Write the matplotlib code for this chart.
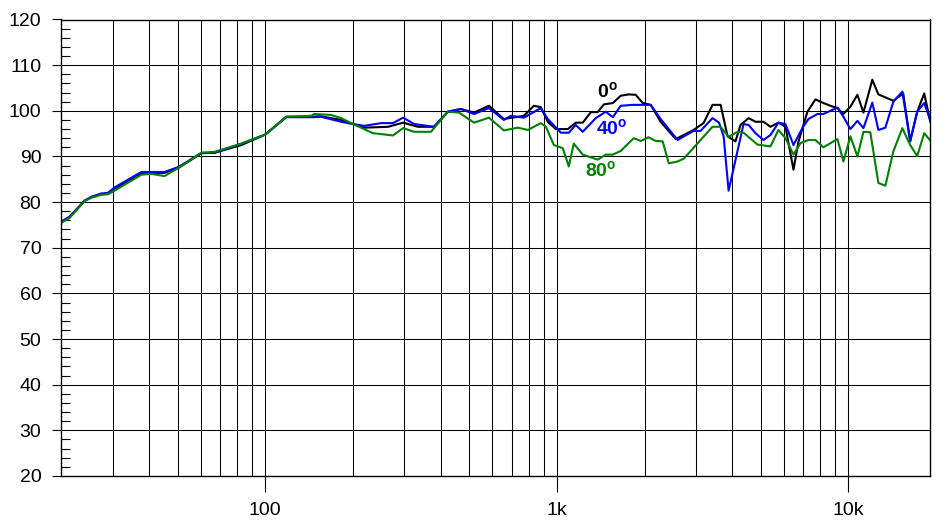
import numpy as np
import matplotlib
matplotlib.use("Agg")
import matplotlib.pyplot as plt

plt.rcParams['font.family'] = ['Liberation Sans', 'DejaVu Sans']
plt.rcParams['mathtext.fontset'] = 'custom'
plt.rcParams['mathtext.bf'] = 'Liberation Sans:bold'
plt.rcParams['mathtext.rm'] = 'Liberation Sans'

# frequency response, 0 deg (black)
f_0 = [20, 21.3, 24, 25.4, 27.4, 28.8, 30.4, 37.6, 45.1, 50.4, 60.4, 66.9, 82.8, 100,
       118, 144, 155, 182, 200, 218, 264, 297, 334, 379, 423, 469, 520, 585, 658,
       771, 834, 881, 931, 992, 1091, 1161, 1227, 1308, 1381, 1449, 1556, 1656,
       1765, 1865, 1970, 2099, 2270, 2556, 2723, 2944, 3185, 3420, 3645, 3852,
       4100, 4266, 4546, 4802, 5114, 5404, 5755, 6083, 6481, 6745, 7236, 7709,
       8208, 8675, 9169, 9612, 10160, 10740, 11260, 12080, 12670, 14260, 15420,
       16290, 17220, 18200, 19090]
db_0 = [75.6, 76.7, 80.3, 81.1, 81.7, 81.9, 82.9, 86.3, 86.4, 87.5, 90.7, 90.8, 92.5, 94.8,
        98.7, 98.7, 98.8, 98.0, 97.1, 96.3, 96.5, 97.4, 96.5, 96.5, 99.8, 100.4, 99.6, 101.1, 98.2,
        98.9, 101.1, 100.8, 97.6, 96.0, 96.0, 97.4, 97.4, 99.7, 99.7, 101.4, 101.7, 103.3,
        103.6, 103.5, 101.7, 101.3, 97.6, 93.8, 94.7, 95.8, 97.3, 101.3, 101.3, 94.4,
        93.3, 96.9, 98.4, 97.6, 97.6, 96.5, 97.4, 96.5, 87.1, 93.3, 99.8, 102.5,
        101.7, 101.1, 100.6, 99.3, 100.9, 103.5, 99.6, 106.8, 103.6, 102.2, 103.8,
        93.3, 99.8, 103.8, 97.6]

# 40 deg (blue)
f_40 = [20, 21.3, 24, 25.4, 27.4, 28.8, 30.4, 37.6, 45.1, 50.4, 60.4, 66.9, 82.8, 100,
        118, 144, 155, 182, 200, 218, 250, 274, 297, 324, 379, 423, 469, 520, 585,
        658, 695, 771, 881, 931, 1032, 1099, 1161, 1227, 1360, 1472, 1556, 1656, 1820,
        2099, 2270, 2596, 2944, 3112, 3420, 3600, 3733, 3882, 4369, 4546, 4802,
        5114, 5404, 5755, 6083, 6481, 6952, 7293, 7834, 8208, 9169, 9612, 10160,
        10740, 11260, 12080, 12670, 13390, 14260, 15310, 16290, 17220, 18200, 19090]
db_40 = [75.8, 76.8, 80.3, 81.2, 81.9, 82.0, 83.2, 86.6, 86.6, 87.7, 90.8, 90.8, 92.8, 94.8,
         98.6, 98.6, 98.7, 97.6, 97.1, 96.7, 97.3, 97.3, 98.5, 97.1, 96.5, 99.8, 100.4, 99.3, 100.6,
         98.0, 98.9, 98.5, 100.6, 98.2, 95.2, 95.2, 96.9, 95.4, 98.4, 99.8, 98.6, 101.1, 101.3,
         101.3, 98.2, 93.6, 95.6, 95.6, 98.4, 97.4, 94.4, 82.5, 97.1, 96.9, 95.1,
         93.6, 94.7, 97.4, 97.1, 92.5, 96.2, 98.2, 99.3, 99.3, 100.7, 98.7, 96.0,
         97.8, 96.2, 101.8, 95.8, 96.3, 102.0, 104.2, 93.4, 99.8, 101.7, 98.0]

# 80 deg (green)
f_80 = [20, 21.3, 24, 25.4, 27.4, 28.8, 30.4, 37.6, 40.5, 45.1, 50.4, 60.4, 66.9, 82.8, 100,
        118, 144, 147, 168, 182, 200, 234, 274, 297, 324, 370, 423, 462, 520, 585,
        658, 735, 796, 881, 917, 977, 1048, 1099, 1143, 1227, 1381, 1472, 1556, 1656,
        1835, 1940, 2065, 2183, 2307, 2420, 2596, 2723, 3420, 3645, 3882, 4168, 4369,
        4878, 5404, 5755, 6083, 6481, 6847, 7293, 7709, 8208, 9169, 9612, 10160,
        10740, 11260, 11890, 12670, 13390, 14260, 15310, 16290, 17220, 18200, 19090]
db_80 = [75.5, 76.5, 80.2, 81.0, 81.6, 81.7, 82.5, 86.0, 86.2, 85.7, 87.5, 90.8, 91.0, 92.8, 94.8,
         98.7, 98.9, 99.3, 99.1, 98.4, 97.1, 95.1, 94.6, 96.2, 95.4, 95.4, 99.8, 99.6, 97.4, 98.5,
         95.7, 96.3, 95.8, 97.3, 96.5, 92.5, 91.8, 87.8, 92.8, 90.4, 89.3, 90.4, 90.4, 91.2,
         94.0, 93.4, 94.2, 93.4, 93.3, 88.5, 88.9, 89.5, 96.5, 96.5, 94.3, 95.4, 95.2,
         92.6, 92.2, 95.8, 94.0, 90.4, 92.9, 93.6, 93.6, 92.0, 93.8, 88.9, 94.4,
         90.0, 95.4, 95.3, 84.2, 83.6, 91.1, 96.2, 92.5, 90.1, 95.1, 93.5]

major_x = [100, 1000, 10000]
major_x_labels = ['100', '1k', '10k']
grid_x = [30, 40, 50, 60, 70, 80, 90, 200, 300, 400, 500, 600, 700, 800, 900,
          2000, 3000, 4000, 5000, 6000, 7000, 8000, 9000]

fig = plt.figure(figsize=(9.53, 5.26), dpi=100)
ax = fig.add_axes([61.5 / 953, 50 / 526, 868.5 / 953, 456.5 / 526])

ax.plot(f_0, db_0, color='black', lw=1.5)
ax.plot(f_40, db_40, color='#0000ff', lw=1.5)
ax.plot(f_80, db_80, color='#008000', lw=1.5)

ax.set_xscale('log')
ax.set_xlim(20, 19050)
ax.set_ylim(20, 120)

ax.set_xticks(major_x)
ax.set_xticklabels(major_x_labels)
ax.set_xticks(grid_x, minor=True)
ax.set_yticks(np.arange(20, 121, 10))
ax.set_yticks(np.arange(20, 121, 2), minor=True)

ax.tick_params(axis='x', which='major', direction='out', length=11.5, width=0.8,
               labelsize=14, pad=7)
ax.tick_params(axis='x', which='minor', length=0)
ax.tick_params(axis='y', which='major', direction='out', length=6.5, width=0.8,
               labelsize=14, pad=8)
ax.tick_params(axis='y', which='minor', direction='in', length=6.5, width=0.8)

ax.grid(True, which='both', axis='x', color='black', lw=0.75)
ax.grid(True, which='major', axis='y', color='black', lw=0.75)
ax.set_axisbelow(True)
for s in ax.spines.values():
    s.set_linewidth(1.0)

ax.text(1377, 102.8, r'0$^\mathbf{o}$', color='black', fontsize=14,
        fontweight='bold', ha='left', va='baseline')
ax.text(1367, 94.7, r'40$^\mathbf{o}$', color='#0000ff', fontsize=14,
        fontweight='bold', ha='left', va='baseline')
ax.text(1250, 85.6, r'80$^\mathbf{o}$', color='#008000', fontsize=14,
        fontweight='bold', ha='left', va='baseline')

fig.savefig('out.png', dpi=100)
